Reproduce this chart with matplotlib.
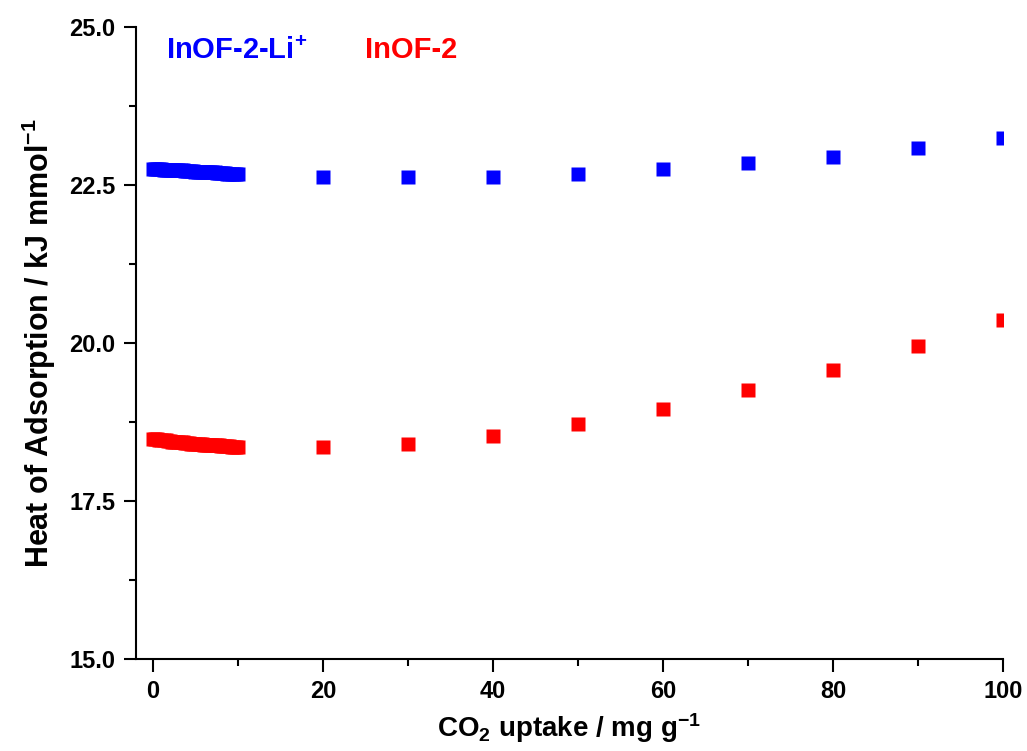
import matplotlib.pyplot as plt
from matplotlib.ticker import MultipleLocator

plt.rcParams['font.family'] = ['Liberation Sans', 'DejaVu Sans']
plt.rcParams['font.weight'] = 'bold'
plt.rcParams['mathtext.fontset'] = 'custom'
plt.rcParams['mathtext.bf'] = 'Liberation Sans:bold'
plt.rcParams['mathtext.rm'] = 'Liberation Sans:bold'
plt.rcParams['mathtext.default'] = 'bf'

# dense low-loading region (0-10 mg/g)
x_low = [0.0, 0.25, 0.5, 0.75, 1.0, 1.25, 1.5, 1.75, 2.0, 2.25, 2.5, 2.75, 3.0, 3.25,
         3.5, 3.75, 4.0, 4.25, 4.5, 4.75, 5.0, 5.25, 5.5, 5.75, 6.0, 6.25, 6.5, 6.75,
         7.0, 7.25, 7.5, 7.75, 8.0, 8.25, 8.5, 8.75, 9.0, 9.25, 9.5, 9.75, 10.0]
li_low = [22.75, 22.75, 22.75, 22.75, 22.75, 22.74, 22.74, 22.74, 22.74, 22.74, 22.74,
          22.73, 22.73, 22.73, 22.73, 22.72, 22.72, 22.72, 22.72, 22.72, 22.71, 22.71,
          22.71, 22.71, 22.71, 22.70, 22.70, 22.70, 22.70, 22.70, 22.69, 22.69, 22.69,
          22.69, 22.69, 22.68, 22.68, 22.68, 22.68, 22.68, 22.68]
inof_low = [18.48, 18.48, 18.48, 18.47, 18.47, 18.46, 18.46, 18.45, 18.45, 18.44, 18.44,
            18.44, 18.43, 18.43, 18.43, 18.42, 18.42, 18.42, 18.41, 18.41, 18.40, 18.40,
            18.40, 18.40, 18.39, 18.39, 18.39, 18.39, 18.38, 18.38, 18.38, 18.38, 18.37,
            18.37, 18.37, 18.37, 18.37, 18.36, 18.36, 18.36, 18.36]

# coarse region
x_high = [20, 30, 40, 50, 60, 70, 80, 90, 100]
li_high = [22.63, 22.62, 22.63, 22.67, 22.75, 22.85, 22.95, 23.09, 23.24]
inof_high = [18.35, 18.41, 18.53, 18.72, 18.96, 19.25, 19.58, 19.95, 20.36]

fig = plt.figure(figsize=(10.27, 7.51), dpi=100)
ax = fig.add_axes([0.1324, 0.1225, 0.8442, 0.8415])

ax.plot(x_low + x_high, li_low + li_high, 's', color='#0000ff', markersize=10, mec='none')
ax.plot(x_low + x_high, inof_low + inof_high, 's', color='#ff0000', markersize=10, mec='none')

ax.set_xlim(-2, 100)
ax.set_ylim(15, 25)
ax.xaxis.set_major_locator(MultipleLocator(20))
ax.xaxis.set_minor_locator(MultipleLocator(10))
ax.yaxis.set_major_locator(MultipleLocator(2.5))
ax.yaxis.set_minor_locator(MultipleLocator(1.25))

for s in ['top', 'right']:
    ax.spines[s].set_visible(False)
for s in ['left', 'bottom']:
    ax.spines[s].set_linewidth(1.5)

ax.tick_params(which='major', direction='out', length=9, width=1.5, labelsize=17, pad=6)
ax.tick_params(which='minor', direction='out', length=5, width=1.5)
for lbl in ax.get_xticklabels() + ax.get_yticklabels():
    lbl.set_fontweight('bold')

ax.set_xlabel('CO$_{2}$ uptake / mg g$^{-1}$', fontsize=20, fontweight='bold', labelpad=6)
ax.set_ylabel('Heat of Adsorption / kJ mmol$^{-1}$', fontsize=22, fontweight='bold', labelpad=8)

ax.text(1.5, 24.63, 'InOF-2-Li$^{+}$', color='#0000ff', fontsize=21, fontweight='bold', va='center')
ax.text(25, 24.63, 'InOF-2', color='#ff0000', fontsize=21, fontweight='bold', va='center')

fig.savefig('out.png', dpi=100)
